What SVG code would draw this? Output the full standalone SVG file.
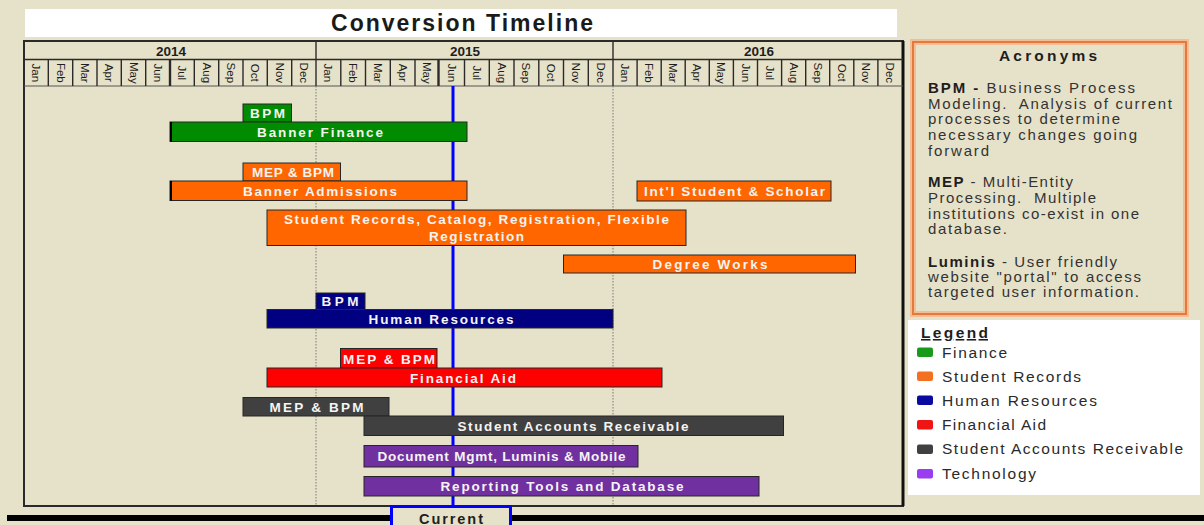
<svg xmlns="http://www.w3.org/2000/svg" width="1204" height="525" viewBox="0 0 1204 525">
<style>
text{font-family:"Liberation Sans",Arial,Helvetica,sans-serif}
.bar{stroke:#262626;stroke-width:1}
.lbl{font-weight:bold;fill:#F4F4F4;text-anchor:middle;font-size:13.5px}
.mon{font-size:11.5px;fill:#1e1e1e;text-anchor:middle}
.yr{font-size:13.5px;font-weight:bold;fill:#1e1e1e;text-anchor:middle}
.sep{stroke:#2a2a2a;stroke-width:1.4}
.ac{font-size:15px;fill:#333}
.acb{font-weight:bold;fill:#1e1e1e}
.lg{font-size:15.5px;fill:#2a2a2a}
.sw{stroke:none}
.dot{stroke:#7a7a7a;stroke-width:1;stroke-dasharray:1.5 1.5}
</style>
<rect x="0" y="0" width="1204" height="525" fill="#E6E1C9"/>

<g id="title">
<rect x="25" y="9" width="872" height="28" fill="#FFFFFF"/>
<text x="462" y="31" font-size="23" font-weight="bold" fill="#1a1a1a" text-anchor="middle" textLength="262" lengthAdjust="spacing">Conversion Timeline</text>
</g>

<g id="chart-frame">
<rect x="24" y="41" width="879" height="465" fill="none" stroke="#2a2a2a" stroke-width="2"/>
<line x1="903" y1="41" x2="903" y2="506" stroke="#111" stroke-width="3"/>
<line x1="24" y1="59.5" x2="903" y2="59.5" stroke="#2a2a2a" stroke-width="1.4"/>
<line x1="24" y1="86" x2="903" y2="86" stroke="#555" stroke-width="1"/>
<line x1="316" y1="41" x2="316" y2="86" class="sep"/>
<line x1="613" y1="41" x2="613" y2="86" class="sep"/>
<line x1="316" y1="86" x2="316" y2="506" class="dot"/>
<line x1="613" y1="86" x2="613" y2="506" class="dot"/>
<text class="yr" x="171" y="55.5">2014</text>
<text class="yr" x="465" y="55.5">2015</text>
<text class="yr" x="759" y="55.5">2016</text>
<g class="sep">
<line x1="48.3" y1="59.5" x2="48.3" y2="86"/><line x1="72.7" y1="59.5" x2="72.7" y2="86"/><line x1="97" y1="59.5" x2="97" y2="86"/><line x1="121.3" y1="59.5" x2="121.3" y2="86"/><line x1="145.7" y1="59.5" x2="145.7" y2="86"/><line x1="170" y1="59.5" x2="170" y2="86" stroke-width="2.4"/><line x1="194.3" y1="59.5" x2="194.3" y2="86"/><line x1="218.7" y1="59.5" x2="218.7" y2="86"/><line x1="243" y1="59.5" x2="243" y2="86"/><line x1="267.3" y1="59.5" x2="267.3" y2="86"/><line x1="291.7" y1="59.5" x2="291.7" y2="86"/>
<line x1="340.8" y1="59.5" x2="340.8" y2="86"/><line x1="365.5" y1="59.5" x2="365.5" y2="86"/><line x1="390.3" y1="59.5" x2="390.3" y2="86"/><line x1="415" y1="59.5" x2="415" y2="86"/><line x1="438.5" y1="59.5" x2="438.5" y2="86" stroke-width="2.4"/><line x1="464.5" y1="59.5" x2="464.5" y2="86"/><line x1="489.3" y1="59.5" x2="489.3" y2="86"/><line x1="514" y1="59.5" x2="514" y2="86"/><line x1="538.8" y1="59.5" x2="538.8" y2="86"/><line x1="563.5" y1="59.5" x2="563.5" y2="86"/><line x1="588.3" y1="59.5" x2="588.3" y2="86"/>
<line x1="637.1" y1="59.5" x2="637.1" y2="86"/><line x1="661.2" y1="59.5" x2="661.2" y2="86"/><line x1="685.2" y1="59.5" x2="685.2" y2="86"/><line x1="709.3" y1="59.5" x2="709.3" y2="86"/><line x1="733.4" y1="59.5" x2="733.4" y2="86"/><line x1="757.5" y1="59.5" x2="757.5" y2="86"/><line x1="781.6" y1="59.5" x2="781.6" y2="86"/><line x1="805.7" y1="59.5" x2="805.7" y2="86"/><line x1="829.7" y1="59.5" x2="829.7" y2="86"/><line x1="853.8" y1="59.5" x2="853.8" y2="86"/><line x1="877.9" y1="59.5" x2="877.9" y2="86"/>
</g>
<g class="mon">
<text transform="translate(36.2,72.8) rotate(90)" y="4">Jan</text>
<text transform="translate(60.5,72.8) rotate(90)" y="4">Feb</text>
<text transform="translate(84.8,72.8) rotate(90)" y="4">Mar</text>
<text transform="translate(109.2,72.8) rotate(90)" y="4">Apr</text>
<text transform="translate(133.5,72.8) rotate(90)" y="4">May</text>
<text transform="translate(157.8,72.8) rotate(90)" y="4">Jun</text>
<text transform="translate(182.2,72.8) rotate(90)" y="4">Jul</text>
<text transform="translate(206.5,72.8) rotate(90)" y="4">Aug</text>
<text transform="translate(230.8,72.8) rotate(90)" y="4">Sep</text>
<text transform="translate(255.2,72.8) rotate(90)" y="4">Oct</text>
<text transform="translate(279.5,72.8) rotate(90)" y="4">Nov</text>
<text transform="translate(303.8,72.8) rotate(90)" y="4">Dec</text>
<text transform="translate(328.4,72.8) rotate(90)" y="4">Jan</text>
<text transform="translate(353.1,72.8) rotate(90)" y="4">Feb</text>
<text transform="translate(377.9,72.8) rotate(90)" y="4">Mar</text>
<text transform="translate(402.6,72.8) rotate(90)" y="4">Apr</text>
<text transform="translate(427.4,72.8) rotate(90)" y="4">May</text>
<text transform="translate(452.1,72.8) rotate(90)" y="4">Jun</text>
<text transform="translate(476.9,72.8) rotate(90)" y="4">Jul</text>
<text transform="translate(501.6,72.8) rotate(90)" y="4">Aug</text>
<text transform="translate(526.4,72.8) rotate(90)" y="4">Sep</text>
<text transform="translate(551.1,72.8) rotate(90)" y="4">Oct</text>
<text transform="translate(575.9,72.8) rotate(90)" y="4">Nov</text>
<text transform="translate(600.6,72.8) rotate(90)" y="4">Dec</text>
<text transform="translate(625,72.8) rotate(90)" y="4">Jan</text>
<text transform="translate(649.1,72.8) rotate(90)" y="4">Feb</text>
<text transform="translate(673.2,72.8) rotate(90)" y="4">Mar</text>
<text transform="translate(697.3,72.8) rotate(90)" y="4">Apr</text>
<text transform="translate(721.4,72.8) rotate(90)" y="4">May</text>
<text transform="translate(745.5,72.8) rotate(90)" y="4">Jun</text>
<text transform="translate(769.5,72.8) rotate(90)" y="4">Jul</text>
<text transform="translate(793.6,72.8) rotate(90)" y="4">Aug</text>
<text transform="translate(817.7,72.8) rotate(90)" y="4">Sep</text>
<text transform="translate(841.8,72.8) rotate(90)" y="4">Oct</text>
<text transform="translate(865.9,72.8) rotate(90)" y="4">Nov</text>
<text transform="translate(890,72.8) rotate(90)" y="4">Dec</text>
</g>
</g>

<g id="connectors">
<line x1="453" y1="86" x2="453" y2="506" stroke="#0000FF" stroke-width="3"/>
</g>

<g id="bpm-finance"><rect class="bar" x="243" y="104" width="48.5" height="18" fill="#008C00"/><text class="lbl" x="267.5" y="118" textLength="35" lengthAdjust="spacing">BPM</text></g>
<g id="banner-finance"><rect class="bar" x="170" y="122" width="297" height="19.5" fill="#008C00"/><line x1="171" y1="122" x2="171" y2="141.5" stroke="#000" stroke-width="2"/><text class="lbl" x="320" y="136.5" textLength="126" lengthAdjust="spacing">Banner Finance</text></g>
<g id="mep-bpm-admissions"><rect class="bar" x="243" y="163" width="97.5" height="18" fill="#FF6600"/><text class="lbl" x="293" y="177" font-size="12.5" textLength="82" lengthAdjust="spacing">MEP &amp; BPM</text></g>
<g id="banner-admissions"><rect class="bar" x="170" y="181" width="297" height="19.5" fill="#FF6600"/><line x1="171" y1="181" x2="171" y2="200.5" stroke="#000" stroke-width="2"/><text class="lbl" x="320" y="195.5" textLength="154" lengthAdjust="spacing">Banner Admissions</text></g>
<g id="intl-student"><rect class="bar" x="637" y="181" width="194" height="20" fill="#FF6600"/><text class="lbl" x="734.5" y="196" textLength="181" lengthAdjust="spacing">Int'l Student &amp; Scholar</text></g>
<g id="student-records"><rect class="bar" x="267" y="210" width="419" height="35.5" fill="#FF6600"/><text class="lbl" x="476.5" y="224" textLength="385" lengthAdjust="spacing">Student Records, Catalog, Registration, Flexible</text><text class="lbl" x="476.5" y="240.5" textLength="95" lengthAdjust="spacing">Registration</text></g>
<g id="degree-works"><rect class="bar" x="563.5" y="255" width="292" height="18" fill="#FF6600"/><text class="lbl" x="710" y="268.5" textLength="115" lengthAdjust="spacing">Degree Works</text></g>
<g id="bpm-hr"><rect class="bar" x="316" y="293" width="49" height="16.5" fill="#000080"/><text class="lbl" x="340" y="305.5" textLength="37" lengthAdjust="spacing">BPM</text></g>
<g id="human-resources"><rect class="bar" x="267" y="309.5" width="346" height="18.5" fill="#000080"/><text class="lbl" x="441" y="323.5" textLength="145" lengthAdjust="spacing">Human Resources</text></g>
<g id="mep-bpm-fa"><rect class="bar" x="340.5" y="348.5" width="96.5" height="19.5" fill="#FF0000"/><text class="lbl" x="389" y="364" textLength="92" lengthAdjust="spacing">MEP &amp; BPM</text></g>
<g id="financial-aid"><rect class="bar" x="267" y="368" width="395" height="19" fill="#FF0000"/><text class="lbl" x="463" y="382.5" textLength="106" lengthAdjust="spacing">Financial Aid</text></g>
<g id="mep-bpm-sar"><rect class="bar" x="243" y="397.5" width="146" height="18.5" fill="#404040" stroke="none"/><text class="lbl" x="316.5" y="412" textLength="94" lengthAdjust="spacing">MEP &amp; BPM</text></g>
<g id="student-accounts"><rect class="bar" x="364" y="416" width="419.5" height="19.5" fill="#404040" stroke="none"/><text class="lbl" x="573" y="430.5" textLength="231" lengthAdjust="spacing">Student Accounts Receivable</text></g>
<g id="document-mgmt"><rect class="bar" x="364" y="445.5" width="274" height="21.5" fill="#7030A0"/><text class="lbl" x="501.5" y="460.5" font-size="13" textLength="248" lengthAdjust="spacing">Document Mgmt, Luminis &amp; Mobile</text></g>
<g id="reporting-tools"><rect class="bar" x="364" y="476.5" width="395" height="19.5" fill="#7030A0"/><text class="lbl" x="562" y="491" textLength="243" lengthAdjust="spacing">Reporting Tools and Database</text></g>

<g id="bottom-line">
<line x1="7" y1="518" x2="1204" y2="518" stroke="#000" stroke-width="6"/>
</g>
<g id="current">
<rect x="391.5" y="506.5" width="119" height="22" fill="#E6E1C9" stroke="#0000FF" stroke-width="3"/>
<text x="451" y="523.5" font-size="14.5" font-weight="bold" fill="#1e1e1e" text-anchor="middle" textLength="64" lengthAdjust="spacing">Current</text>
</g>

<g id="acronyms">
<rect x="913" y="42" width="273" height="272" fill="#E6E1C9" stroke="#F3BD95" stroke-width="6"/>
<rect x="913" y="42" width="273" height="272" fill="none" stroke="#E37A3C" stroke-width="2"/>
<text x="1048" y="61" font-size="15.5" font-weight="bold" fill="#1e1e1e" text-anchor="middle" textLength="98" lengthAdjust="spacing">Acronyms</text>
<g class="ac">
<text x="928" y="93" textLength="207" lengthAdjust="spacing"><tspan class="acb">BPM - </tspan>Business Process</text>
<text x="928" y="109" textLength="244" lengthAdjust="spacing">Modeling.&#160; Analysis of current</text>
<text x="928" y="124" textLength="192" lengthAdjust="spacing">processes to determine</text>
<text x="928" y="140" textLength="209" lengthAdjust="spacing">necessary changes going</text>
<text x="928" y="156" textLength="61" lengthAdjust="spacing">forward</text>
<text x="928" y="187" textLength="145" lengthAdjust="spacing"><tspan class="acb">MEP</tspan> - Multi-Entity</text>
<text x="928" y="203" textLength="168" lengthAdjust="spacing">Processing.&#160; Multiple</text>
<text x="928" y="219" textLength="211" lengthAdjust="spacing">institutions co-exist in one</text>
<text x="928" y="234" textLength="79" lengthAdjust="spacing">database.</text>
<text x="928" y="267" textLength="189" lengthAdjust="spacing"><tspan class="acb">Luminis</tspan> - User friendly</text>
<text x="928" y="282" textLength="213" lengthAdjust="spacing">website "portal" to access</text>
<text x="928" y="297" textLength="211" lengthAdjust="spacing">targeted user information.</text>
</g>
</g>

<g id="legend">
<rect x="908" y="320" width="292" height="175" fill="#FFFFFF"/>
<text x="921" y="338" font-size="15.5" font-weight="bold" fill="#1e1e1e" text-decoration="underline" textLength="67" lengthAdjust="spacing">Legend</text>
<rect class="sw" x="917" y="347.5" width="16" height="9.5" rx="2" fill="#1A9A1A"/>
<rect class="sw" x="917" y="371.5" width="16" height="9.5" rx="2" fill="#F37021"/>
<rect class="sw" x="917" y="395.5" width="16" height="9.5" rx="2" fill="#0A0AA0"/>
<rect class="sw" x="917" y="420" width="16" height="9.5" rx="2" fill="#F01414"/>
<rect class="sw" x="917" y="444.5" width="16" height="9.5" rx="2" fill="#404040"/>
<rect class="sw" x="917" y="469" width="16" height="9.5" rx="2" fill="#9A3CF2"/>
<g class="lg">
<text x="942" y="358" textLength="65" lengthAdjust="spacing">Finance</text>
<text x="942" y="381.5" textLength="139" lengthAdjust="spacing">Student Records</text>
<text x="942" y="405.5" textLength="155" lengthAdjust="spacing">Human Resources</text>
<text x="942" y="429.5" textLength="104" lengthAdjust="spacing">Financial Aid</text>
<text x="942" y="454" textLength="241" lengthAdjust="spacing">Student Accounts Receivable</text>
<text x="942" y="479" textLength="94" lengthAdjust="spacing">Technology</text>
</g>
</g>
</svg>
